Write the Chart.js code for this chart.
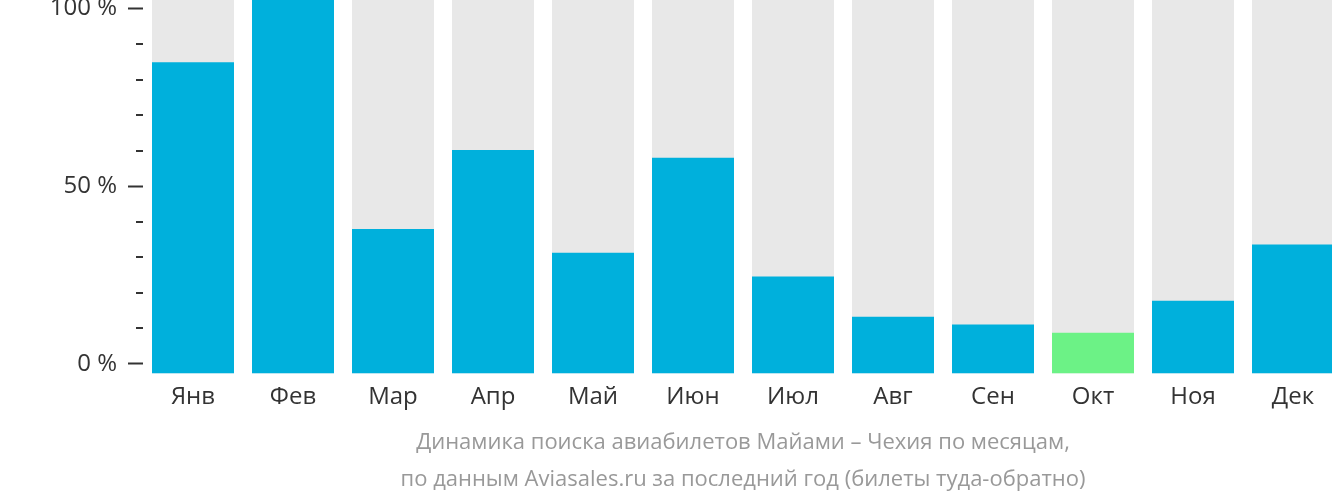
<!DOCTYPE html>
<html>
<head>
<meta charset="utf-8">
<script src="https://cdn.jsdelivr.net/npm/chart.js@4"></script>
<style>
  html, body { margin: 0; padding: 0; overflow: hidden; background: #fff; }
  #wrap { width: 1343px; height: 502px; }
</style>
</head>
<body>
<div id="wrap"><canvas id="months-chart"></canvas></div>
<script>
// months and the share of searches for each one (in % of the busiest month)
const months = ["Янв", "Фев", "Мар", "Апр", "Май", "Июн", "Июл", "Авг", "Сен", "Окт", "Ноя", "Дек"];
const searchShare = [84.9, 102.4, 38.0, 60.2, 31.3, 58.0, 24.6, 13.3, 11.1, 8.8, 17.8, 33.6];
const highlightMonth = "Окт";

// axis range and ticks
const yMin = -2.7;
const yMax = 102.4;
const yTicks = [0, 10, 20, 30, 40, 50, 60, 70, 80, 90, 100];
const fullBar = months.map(() => yMax);

const captionLines = [
  "Динамика поиска авиабилетов Майами – Чехия по месяцам,",
  "по данным Aviasales.ru за последний год (билеты туда-обратно)"
];

Chart.defaults.font.family = "'Open Sans', 'Noto Sans', sans-serif";

// short minor ticks next to the y axis
const minorTicks = {
  id: 'minorTicks',
  afterDraw(chart) {
    const y = chart.scales.y;
    const ctx = chart.ctx;
    ctx.save();
    ctx.strokeStyle = '#333';
    ctx.lineWidth = 2;
    y.ticks.forEach(t => {
      if (t.value % 50 === 0) return;
      const py = Math.round(y.getPixelForValue(t.value));
      ctx.beginPath();
      ctx.moveTo(chart.chartArea.left - 7, py);
      ctx.lineTo(chart.chartArea.left, py);
      ctx.stroke();
    });
    ctx.restore();
  }
};

const ctx = document.getElementById('months-chart').getContext('2d');
const chart = new Chart(ctx, {
  type: 'bar',
  data: {
    labels: months,
    datasets: [
      {
        data: searchShare,
        base: yMin,
        grouped: false,
        order: 0,
        backgroundColor: c => months[c.dataIndex] === highlightMonth ? '#6cf286' : '#00b0dc',
        barPercentage: 0.82,
        categoryPercentage: 1.0
      },
      {
        data: fullBar,
        base: yMin,
        grouped: false,
        order: 1,
        backgroundColor: '#e8e8e8',
        barPercentage: 0.82,
        categoryPercentage: 1.0
      }
    ]
  },
  options: {
    responsive: true,
    maintainAspectRatio: false,
    animation: false,
    layout: { padding: 0 },
    plugins: {
      legend: { display: false },
      tooltip: { enabled: false },
      title: {
        display: true,
        position: 'bottom',
        fullSize: false,
        text: captionLines,
        color: '#999',
        font: { size: 22, weight: 'normal', lineHeight: 1.68 },
        padding: { top: 0, bottom: 3.5 }
      }
    },
    scales: {
      x: {
        grid: { display: false, drawTicks: false },
        border: { display: false },
        ticks: { color: '#333', font: { size: 24 }, padding: 9, maxRotation: 0 },
        afterFit(scale) {
          scale.height = 51;
          scale.paddingLeft = 0;
          scale.paddingRight = 0;
        }
      },
      y: {
        min: yMin,
        max: yMax,
        grid: {
          drawOnChartArea: false,
          drawTicks: true,
          tickLength: 15,
          tickWidth: 2,
          tickColor: c => (c.tick && c.tick.value % 50 === 0) ? '#333' : 'transparent'
        },
        border: { display: false },
        ticks: {
          color: '#333',
          font: { size: 24 },
          padding: 11,
          autoSkip: false,
          callback: v => (v % 50 === 0 ? v + ' %' : '')
        },
        afterBuildTicks(scale) {
          scale.ticks = yTicks.map(v => ({ value: v }));
        },
        afterFit(scale) {
          scale.width = 143;
          scale.paddingTop = 0;
          scale.paddingBottom = 0;
        }
      }
    }
  },
  plugins: [minorTicks]
});
</script>
</body>
</html>
